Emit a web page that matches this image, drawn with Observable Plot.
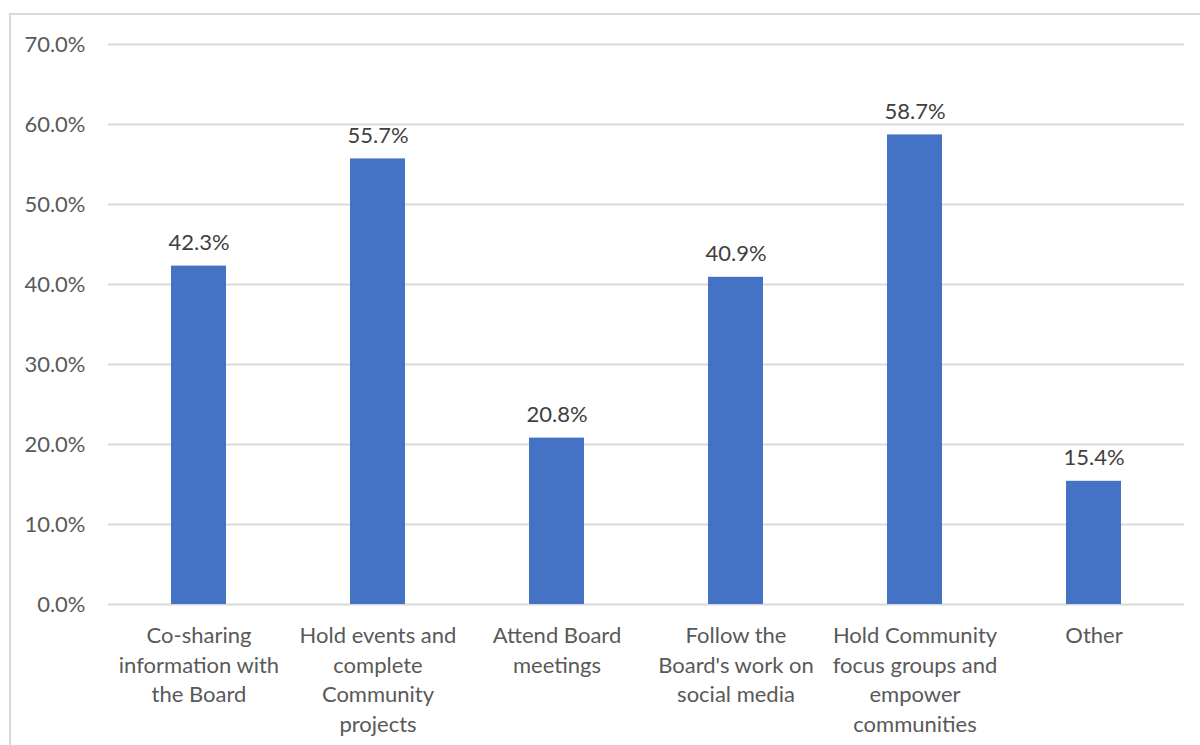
<!DOCTYPE html>
<html>
<head>
<meta charset="utf-8">
<script src="https://cdn.jsdelivr.net/npm/d3@7"></script>
<script src="https://cdn.jsdelivr.net/npm/@observablehq/plot@0.6"></script>
<style>
  html, body { margin: 0; padding: 0; background: #fff; }
  #wrap { position: relative; width: 1200px; height: 745px; overflow: hidden; }
  #frame { position: absolute; left: 9px; top: 13px; width: 1300px; height: 900px; border: 2px solid #d9d9d9; box-sizing: border-box; }
  #chart { position: absolute; left: 0; top: 0; }
</style>
</head>
<body>
<div id="wrap"><div id="frame"></div><div id="chart"></div></div>
<script>
const categories = [
  "Co-sharing\ninformation with\nthe Board",
  "Hold events and\ncomplete\nCommunity\nprojects",
  "Attend Board\nmeetings",
  "Follow the\nBoard's work on\nsocial media",
  "Hold Community\nfocus groups and\nempower\ncommunities",
  "Other"
];
const values = [42.3, 55.7, 20.8, 40.9, 58.7, 15.4];
const yTicks = [0, 10, 20, 30, 40, 50, 60, 70];

const data = categories.map((c, i) => ({category: c, value: values[i]}));
const fmt = d => d.toFixed(1) + "%";

const chart = Plot.plot({
  width: 1200,
  height: 745,
  marginLeft: 108,
  marginRight: 16,
  marginTop: 44,
  marginBottom: 141,
  style: {fontFamily: "Lato, sans-serif", fontSize: "22px", color: "#595959", background: "transparent"},
  x: {domain: categories, paddingInner: 0.69, paddingOuter: 0.345, label: null},
  y: {domain: [0, 70], label: null},
  marks: [
    Plot.gridY(yTicks, {stroke: "#d9d9d9", strokeOpacity: 1, strokeWidth: 2}),
    Plot.barY(data, {x: "category", y: "value", fill: "#4472C4"}),
    Plot.text(data, {x: "category", y: "value", text: d => fmt(d.value), lineAnchor: "bottom", dy: -16, fill: "#404040", fontSize: 22}),
    Plot.axisY(yTicks, {tickSize: 0, tickPadding: 23, tickFormat: fmt, fill: "#595959", fontSize: 22}),
    Plot.axisX({tickSize: 0, tickPadding: 18, lineHeight: 1.34, fill: "#595959", fontSize: 22})
  ]
});
document.getElementById("chart").appendChild(chart);
</script>
</body>
</html>
